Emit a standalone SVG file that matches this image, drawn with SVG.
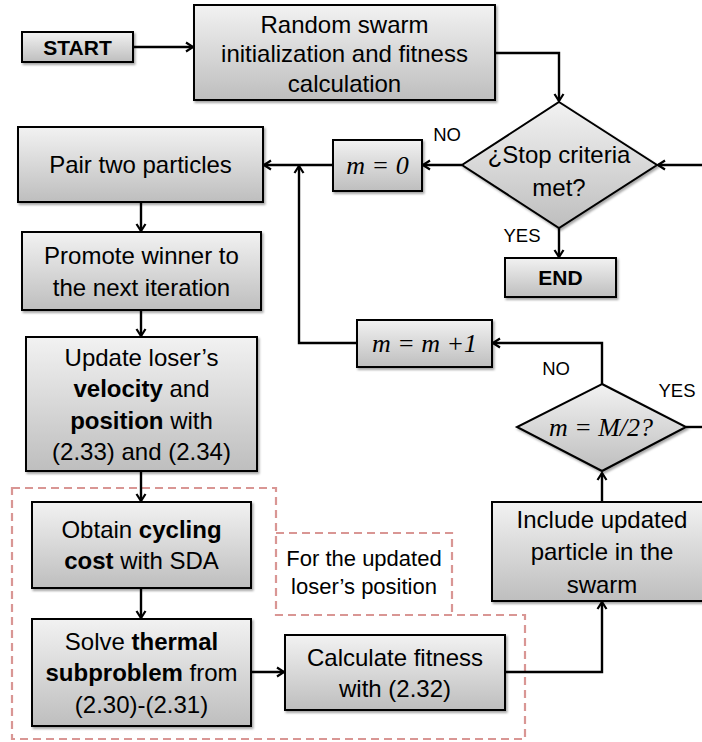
<svg xmlns="http://www.w3.org/2000/svg" width="702" height="742" viewBox="0 0 702 742">
<style>
.box{fill:url(#g);stroke:#000;stroke-width:2;filter:url(#sh)}
.t{font-family:"Liberation Sans",Arial,sans-serif;font-size:24px;fill:#000;text-anchor:middle}
.b{font-weight:bold}
.lab{font-family:"Liberation Sans",Arial,sans-serif;font-size:18.5px;fill:#000;text-anchor:middle}
.m{font-family:"Liberation Serif","Times New Roman",serif;font-style:italic;font-size:26px;fill:#000;text-anchor:middle}
.c{fill:none;stroke:#000;stroke-width:2.4}
.a{marker-end:url(#ah)}
.d{fill:none;stroke:#d99694;stroke-width:2.2;stroke-dasharray:8 5}
</style>
<defs>
<linearGradient id="g" x1="0" y1="0" x2="0" y2="1">
<stop offset="0" stop-color="#f2f2f2"/>
<stop offset="1" stop-color="#bebebe"/>
</linearGradient>
<filter id="sh" x="-10%" y="-10%" width="130%" height="130%">
<feDropShadow dx="1.5" dy="2" stdDeviation="1.2" flood-color="#000" flood-opacity="0.35"/>
</filter>
<marker id="ah" viewBox="0 0 12 12" refX="10.5" refY="6" markerWidth="12" markerHeight="12" markerUnits="userSpaceOnUse" orient="auto">
<path d="M3.5,1.5 L10.5,6 L3.5,10.5" fill="none" stroke="#000" stroke-width="2.2"/>
</marker>
</defs>

<g id="regions">
<path class="d" d="M12,488 L276,488 L276,615 L525,615 L525,739 L12,739 Z"/>
<path class="d" d="M276,533 L452,533 L452,615"/>
</g>

<g id="connectors">
<path class="c a" d="M133,47 L193,47"/>
<path class="c a" d="M495,53 L559,53 L559,101"/>
<path class="c a" d="M462,165 L423,165"/>
<path class="c a" d="M333,165 L264,165"/>
<path class="c a" d="M559,228 L559,257"/>
<path class="c a" d="M702,165 L658,165"/>
<path class="c a" d="M141,202 L141,231"/>
<path class="c a" d="M141,310 L141,336"/>
<path class="c a" d="M141,471 L141,501"/>
<path class="c a" d="M141,588 L141,618"/>
<path class="c a" d="M251,672 L284,672"/>
<path class="c a" d="M505,672 L602,672 L602,602"/>
<path class="c a" d="M602,502 L602,473"/>
<path class="c a" d="M602,384 L602,343 L493,343"/>
<path class="c a" d="M357,343 L299,343 L299,166"/>
<path class="c" d="M686,427 L702,427"/>
</g>

<g id="start">
<rect class="box" x="22" y="32" width="111" height="30"/>
<text class="t b" x="77.5" y="54.5" style="font-size:21px">START</text>
</g>

<g id="init">
<rect class="box" x="194" y="5" width="301" height="95"/>
<text class="t" x="344.5" y="33">Random swarm</text>
<text class="t" x="344.5" y="62">initialization and fitness</text>
<text class="t" x="344.5" y="91.5">calculation</text>
</g>

<g id="stop">
<polygon class="box" points="559,102 657,165 559,228 462,165"/>
<text class="t" x="559" y="163">¿Stop criteria</text>
<text class="t" x="559" y="196">met?</text>
</g>

<g id="end">
<rect class="box" x="505" y="258" width="111" height="39"/>
<text class="t b" x="560.5" y="285" style="font-size:21px">END</text>
</g>

<g id="m0">
<rect class="box" x="333" y="140" width="89" height="51"/>
<text class="m" x="377.5" y="174">m = 0</text>
</g>

<g id="pair">
<rect class="box" x="18" y="127" width="245" height="75"/>
<text class="t" x="140.5" y="173">Pair two particles</text>
</g>

<g id="promote">
<rect class="box" x="22" y="232" width="239" height="78"/>
<text class="t" x="141.5" y="263.5">Promote winner to</text>
<text class="t" x="141.5" y="295.5">the next iteration</text>
</g>

<g id="update">
<rect class="box" x="26" y="337" width="231" height="134"/>
<text class="t" x="141.5" y="365.5">Update loser’s</text>
<text class="t" x="141.5" y="397"><tspan class="b">velocity</tspan> and</text>
<text class="t" x="141.5" y="428.5"><tspan class="b">position</tspan> with</text>
<text class="t" x="141.5" y="460">(2.33) and (2.34)</text>
</g>

<g id="obtain">
<rect class="box" x="32" y="502" width="219" height="86"/>
<text class="t" x="141.5" y="538">Obtain <tspan class="b">cycling</tspan></text>
<text class="t" x="141.5" y="569"><tspan class="b">cost</tspan> with SDA</text>
</g>

<g id="note">
<text class="t" x="364" y="566" style="font-size:22px">For the updated</text>
<text class="t" x="364" y="594" style="font-size:22px">loser’s position</text>
</g>

<g id="solve">
<rect class="box" x="32" y="619" width="219" height="107"/>
<text class="t" x="141.5" y="649.5">Solve <tspan class="b">thermal</tspan></text>
<text class="t" x="141.5" y="681"><tspan class="b">subproblem</tspan> from</text>
<text class="t" x="141.5" y="712.5">(2.30)-(2.31)</text>
</g>

<g id="calc">
<rect class="box" x="285" y="635" width="220" height="75"/>
<text class="t" x="395" y="665.5">Calculate fitness</text>
<text class="t" x="395" y="697">with (2.32)</text>
</g>

<g id="include">
<rect class="box" x="492" y="502" width="230" height="99"/>
<text class="t" x="602" y="527.5">Include updated</text>
<text class="t" x="602" y="560">particle in the</text>
<text class="t" x="602" y="592.5">swarm</text>
</g>

<g id="mhalf">
<polygon class="box" points="602,384 686,427 602,471 517,427"/>
<text class="m" x="601" y="436">m = M/2?</text>
</g>

<g id="mplus">
<rect class="box" x="357" y="320" width="135" height="47"/>
<text class="m" x="424.5" y="352">m = m +1</text>
</g>

<g id="labels">
<text class="lab" x="447" y="141">NO</text>
<text class="lab" x="522" y="242">YES</text>
<text class="lab" x="556" y="375">NO</text>
<text class="lab" x="677" y="397">YES</text>
</g>
</svg>
